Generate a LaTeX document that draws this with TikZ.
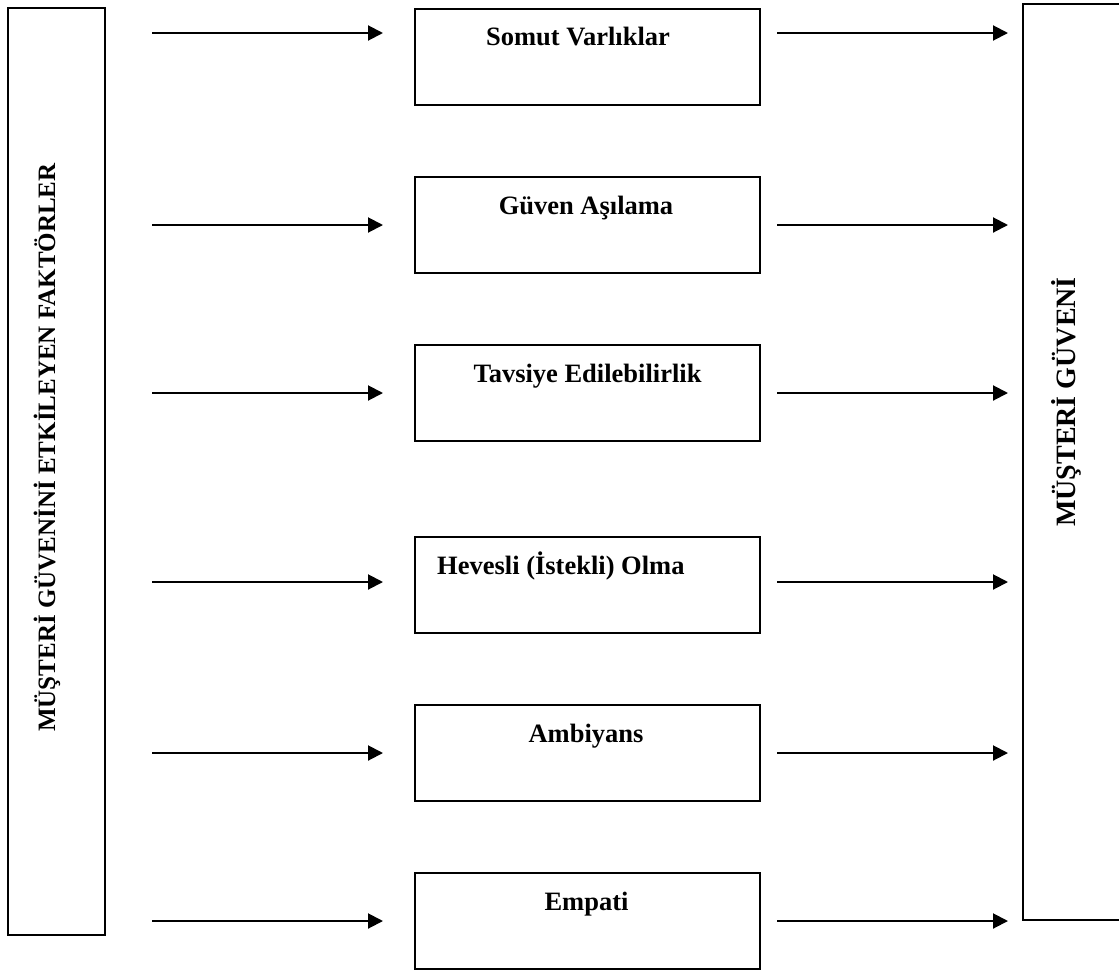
\documentclass[tikz,border=0pt]{standalone}
\usepackage{fontspec}
\setmainfont{Liberation Serif}
\usetikzlibrary{arrows.meta}
\begin{document}
\begin{tikzpicture}[x=1pt,y=-1pt,
  frame/.style={draw=black, line width=2pt, inner sep=0pt},
  factor/.style={frame, minimum width=345pt, minimum height=96pt},
  lbl/.style={font=\fontsize{26.5}{30}\selectfont\bfseries, inner sep=0pt, anchor=base},
  sidelbl/.style={font=\fontsize{#1}{30}\selectfont\bfseries, inner sep=0pt, rotate=90, anchor=base},
  flow/.style={line width=2pt, -{Triangle[length=15pt,width=15pt]}}]
\useasboundingbox (0,0) rectangle (1119,972);

% outer columns
\node[frame, minimum width=97pt, minimum height=927pt] (src) at (56.5,471.5) {};
\node[sidelbl=25] (srct) at (55,447.5) {MÜŞTERİ GÜVENİNİ ETKİLEYEN FAKTÖRLER};
\node[frame, minimum width=110pt, minimum height=916pt] (dst) at (1078,462) {};
\node[sidelbl=28] (dstt) at (1075,402) {MÜŞTERİ GÜVENİ};

% factor boxes
\node[factor] (f1) at (587.5,56.5) {};
\node[factor] (f2) at (587.5,225) {};
\node[factor] (f3) at (587.5,392.5) {};
\node[factor] (f4) at (587.5,585) {};
\node[factor] (f5) at (587.5,752.5) {};
\node[factor] (f6) at (587.5,921) {};

\node[lbl] (t1) at (578,45) {Somut Varlıklar};
\node[lbl] (t2) at (586,214) {Güven Aşılama};
\node[lbl] (t3) at (587.5,382) {Tavsiye Edilebilirlik};
\node[lbl, anchor=base west] (t4) at (437,574) {Hevesli (İstekli) Olma};
\node[lbl] (t5) at (586,742) {Ambiyans};
\node[lbl] (t6) at (586.5,910) {Empati};

% arrow end points
\foreach \i/\y in {1/33, 2/225, 3/393, 4/582, 5/753, 6/921} {
  \coordinate (a\i) at (152,\y);
  \coordinate (b\i) at (383,\y);
  \coordinate (c\i) at (777,\y);
  \coordinate (d\i) at (1008,\y);
  \draw[flow] (a\i) -- (b\i);
  \draw[flow] (c\i) -- (d\i);
}
\end{tikzpicture}
\end{document}
